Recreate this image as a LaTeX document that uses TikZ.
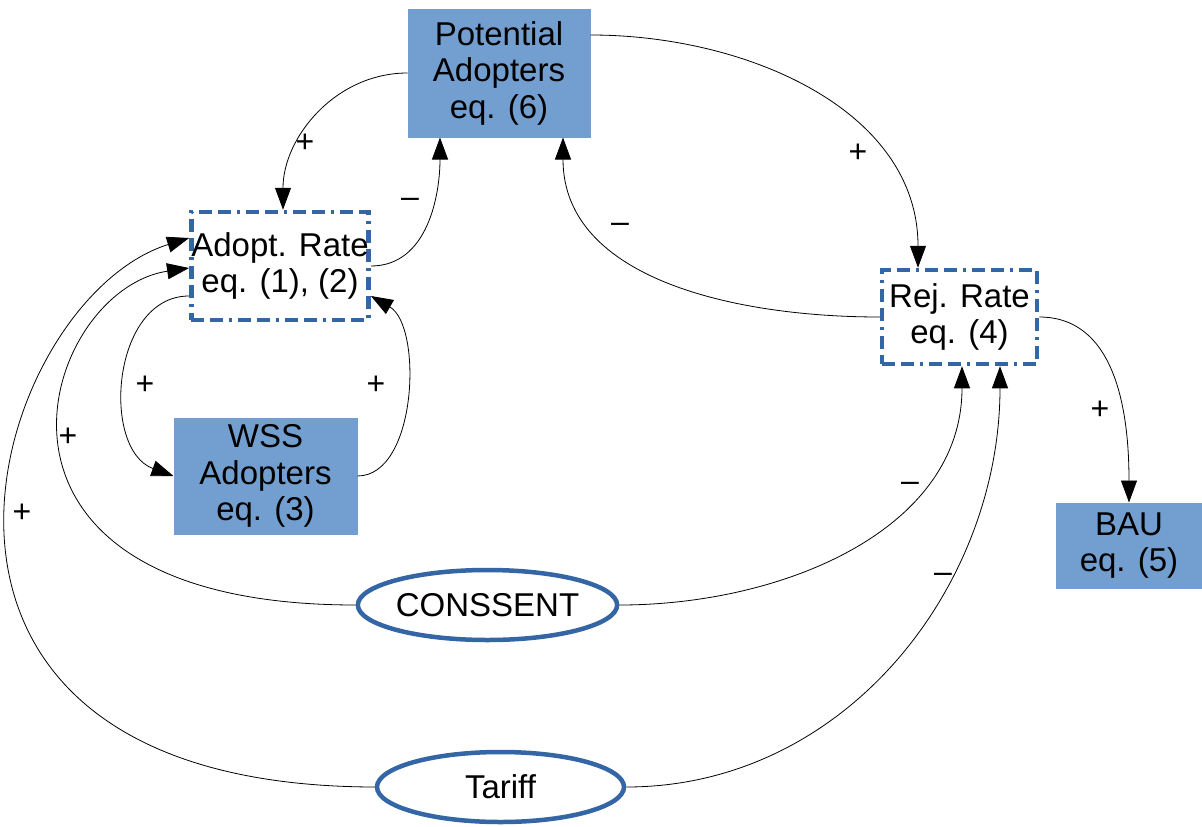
\documentclass[tikz,border=0pt]{standalone}
\usepackage{fontspec}
\setmainfont{Liberation Sans}
\usetikzlibrary{arrows.meta,shapes.geometric}
\definecolor{boxfill}{HTML}{729FCF}
\definecolor{boxline}{HTML}{3465A4}
\tikzset{
  every node/.style={font=\fontsize{33}{36.5}\selectfont, inner sep=0pt, align=center},
  filledbox/.style={rectangle, fill=boxfill, draw=boxfill, line width=1pt},
  ratebox/.style={rectangle, draw=boxline, line width=4.5pt, dash pattern=on 13pt off 6pt on 13pt off 6pt on 3pt off 6pt},
  policy/.style={ellipse, draw=boxline, line width=4.5pt, fill=white},
  link/.style={line width=0.8pt, -{Triangle[length=22pt,width=16pt]}},
  sign/.style={font=\fontsize{32}{34}\selectfont}
}
\begin{document}
\begin{tikzpicture}[x=1pt,y=1pt]
\useasboundingbox (0,0) rectangle (1202,-827);
% nodes
\node[filledbox, minimum width=182pt, minimum height=128pt] (PA) at (499,-73) {Potential\\Adopters\\eq. (6)};
\node[ratebox, minimum width=174pt, minimum height=108pt] (AR) at (280,-266) {Adopt. Rate\\eq. (1), (2)};
\node[ratebox, minimum width=155pt, minimum height=94pt] (RR) at (959.5,-317) {Rej. Rate\\eq. (4)};
\node[filledbox, minimum width=183pt, minimum height=116pt] (WSS) at (265.5,-476) {WSS\\Adopters\\eq. (3)};
\node[filledbox, minimum width=146pt, minimum height=85pt] (BAU) at (1129,-545.5) {BAU\\eq. (5)};
\node[policy, minimum width=249pt, minimum height=70pt] (CON) at (487.5,-605) {CONSSENT};
\node[policy, minimum width=247pt, minimum height=70pt] (TAR) at (500.5,-787) {Tariff};
% connectors
\draw[link] (PA.west) to[out=180,in=90] ([xshift=3pt]AR.north);
\draw[link] (AR.east) to[out=0,in=-90] ([xshift=-59pt]PA.south);
\draw[link] ([yshift=38pt]PA.east) to[out=0,in=90] ([xshift=-41.5pt]RR.north);
\draw[link] (RR.west) to[out=180,in=-90] ([xshift=64pt]PA.south);
\draw[link] (RR.east) to[out=0,in=90] (BAU.north);
\draw[link] ([yshift=-30pt]AR.west) to[out=180,in=160,looseness=1.1] (WSS.west);
\draw[link] (WSS.east) to[out=0,in=-30,looseness=0.85] ([yshift=-30pt]AR.east);
\draw[link] (CON.west) .. controls (-60,-605) and (40,-290) .. ([yshift=-2pt]AR.west);
\draw[link] (TAR.west) .. controls (-160,-786) and (-10,-300) .. ([yshift=28pt]AR.west);
\draw[link] (CON.east) to[out=0,in=-90] ([xshift=2.5pt]RR.south);
\draw[link] (TAR.east) to[out=0,in=-90] ([xshift=40.5pt]RR.south);
% signs
\node[sign] (s1) at (305,-143) {+};
\node[sign] (s2) at (410,-203) {–};
\node[sign] (s3) at (858,-153) {+};
\node[sign] (s4) at (620,-228) {–};
\node[sign] (s5) at (1100,-410) {+};
\node[sign] (s6) at (145,-385) {+};
\node[sign] (s7) at (376,-385) {+};
\node[sign] (s8) at (68,-437) {+};
\node[sign] (s9) at (910,-487) {–};
\node[sign] (s10) at (22,-513) {+};
\node[sign] (s11) at (943,-578) {–};
\end{tikzpicture}
\end{document}
